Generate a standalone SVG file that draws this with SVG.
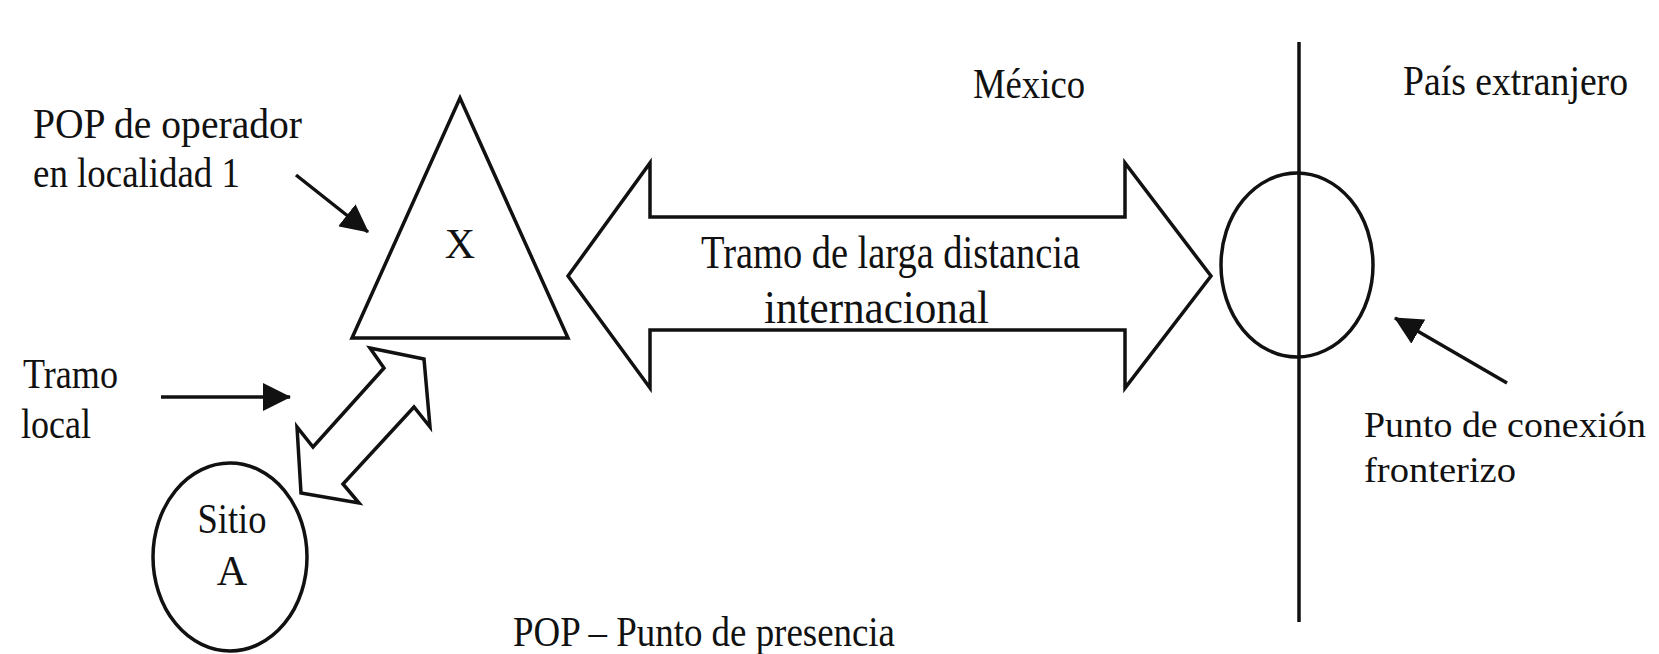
<svg xmlns="http://www.w3.org/2000/svg" width="1659" height="654" viewBox="0 0 1659 654">
  <style>
    .shape { fill: #ffffff; stroke: #111111; stroke-width: 3.5; stroke-linejoin: miter; }
    .line { fill: none; stroke: #111111; stroke-width: 3.5; }
    .ptr { fill: none; stroke: #111111; stroke-width: 3.5; marker-end: url(#head); }
    text { font-family: "Liberation Serif", "Times New Roman", serif; fill: #111111; font-size: 42px; }
    .big { font-size: 46px; }
    .edge { font-size: 36px; }
  </style>
  <defs>
    <marker id="head" markerUnits="userSpaceOnUse" viewBox="0 0 28 28" refX="27" refY="14" markerWidth="28" markerHeight="28" orient="auto">
      <path d="M0,0 L28,14 L0,28 Z" fill="#111111"/>
    </marker>
  </defs>
  <rect x="0" y="0" width="1659" height="654" fill="#ffffff"/>

  <g id="border-line">
    <line class="line" x1="1299" y1="42" x2="1299" y2="622"/>
  </g>

  <g id="label-mexico">
    <text x="973" y="98" textLength="112" lengthAdjust="spacingAndGlyphs">México</text>
  </g>
  <g id="label-pais">
    <text x="1403" y="95" textLength="225" lengthAdjust="spacingAndGlyphs">País extranjero</text>
  </g>

  <g id="pop-x">
    <polygon class="shape" points="460,98 568,338 352,338"/>
    <text x="460" y="258" text-anchor="middle">X</text>
  </g>

  <g id="label-pop-operador">
    <text x="33" y="138" textLength="269" lengthAdjust="spacingAndGlyphs">POP de operador</text>
    <text x="33" y="187" textLength="207" lengthAdjust="spacingAndGlyphs">en localidad 1</text>
  </g>

  <g id="tramo-ld">
    <polygon class="shape" points="568,276 650,163 650,217 1125,217 1125,163 1211,276 1125,388 1125,330 650,330 650,388"/>
    <text class="big" x="701" y="268" textLength="379" lengthAdjust="spacingAndGlyphs">Tramo de larga distancia</text>
    <text class="big" x="764" y="323" textLength="225" lengthAdjust="spacingAndGlyphs">internacional</text>
  </g>

  <g id="punto-conexion">
    <ellipse class="line" cx="1297" cy="265" rx="76" ry="92"/>
  </g>

  <g id="label-punto">
    <text class="edge" x="1364" y="437" textLength="282" lengthAdjust="spacingAndGlyphs">Punto de conexión</text>
    <text class="edge" x="1364" y="482" textLength="152" lengthAdjust="spacingAndGlyphs">fronterizo</text>
  </g>

  <g id="tramo-local">
    <polygon class="shape" points="370,348 424,359 430,427 414,407 343,484 359,503 301,493 297,427 313,447 384,368"/>
  </g>

  <g id="label-tramo-local">
    <text x="23" y="388" textLength="95" lengthAdjust="spacingAndGlyphs">Tramo</text>
    <text x="21" y="438" textLength="70" lengthAdjust="spacingAndGlyphs">local</text>
  </g>

  <g id="sitio-a">
    <ellipse class="line" cx="230" cy="557" rx="77" ry="94"/>
    <text x="232" y="533" text-anchor="middle" textLength="69" lengthAdjust="spacingAndGlyphs">Sitio</text>
    <text x="232" y="585" text-anchor="middle">A</text>
  </g>

  <g id="legend">
    <text x="513" y="646" textLength="382" lengthAdjust="spacingAndGlyphs">POP – Punto de presencia</text>
  </g>

  <g id="connectors">
    <line class="ptr" x1="296" y1="175" x2="368" y2="232"/>
    <line class="ptr" x1="161" y1="397" x2="290" y2="397"/>
    <line class="ptr" x1="1507" y1="383" x2="1395" y2="318"/>
  </g>
</svg>
